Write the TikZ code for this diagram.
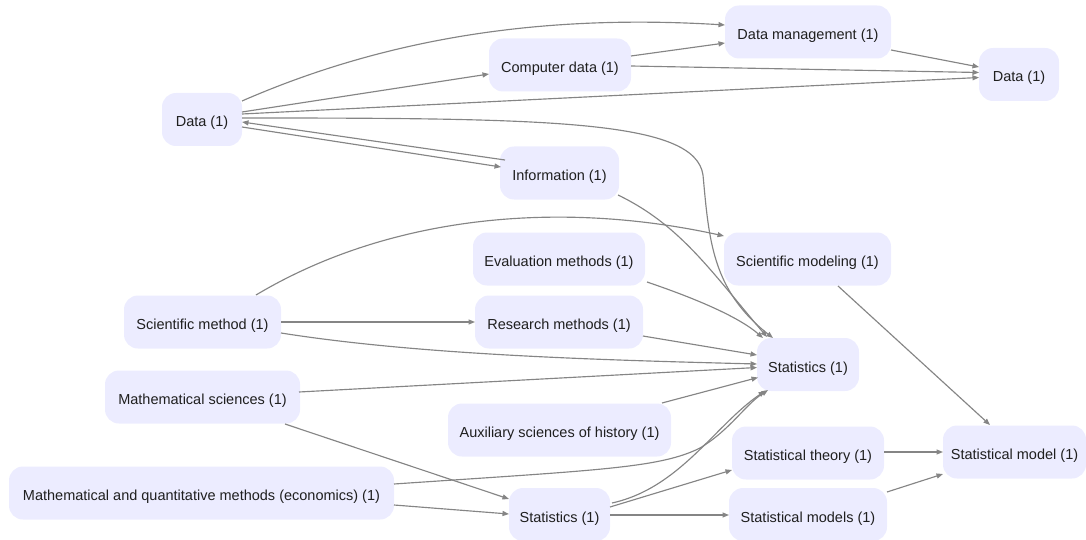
\documentclass[tikz,border=0pt]{standalone}
\usepackage{fontspec}
\setmainfont{Liberation Sans}
\usetikzlibrary{arrows.meta,calc}
\definecolor{boxfill}{HTML}{ECECFF}
\definecolor{edgegray}{HTML}{858585}
\begin{document}
\begin{tikzpicture}[x=1pt,y=-1pt,
  box/.style={fill=boxfill,rounded corners=14pt,minimum height=53pt,
    inner xsep=0pt,inner ysep=0pt,text height=15pt,text depth=0pt,
    font=\fontsize{14.5}{17}\selectfont,text=black!88},
  link/.style={draw=edgegray,line width=1.15pt,
    -{Triangle[length=6.5pt,width=5pt]}}]
\useasboundingbox (0,0) rectangle (1086,540);

% nodes
\node[box,minimum width=80pt]  (d1)    at (202,119.5) {Data (1)};
\node[box,minimum width=142pt] (cd)    at (560,65)    {Computer data (1)};
\node[box,minimum width=166pt] (dm)    at (808,32)    {Data management (1)};
\node[box,minimum width=80pt]  (d2)    at (1019,74.5) {Data (1)};
\node[box,minimum width=119pt] (info)  at (559.5,173) {Information (1)};
\node[box,minimum width=167pt] (smod)  at (807.5,259) {Scientific modeling (1)};
\node[box,minimum width=172pt] (em)    at (559,259)   {Evaluation methods (1)};
\node[box,minimum width=157pt] (sm)    at (202.5,322) {Scientific method (1)};
\node[box,minimum width=168pt] (rm)    at (559,322)   {Research methods (1)};
\node[box,minimum width=102pt] (stat)  at (808,364.5) {Statistics (1)};
\node[box,minimum width=195pt] (ms)    at (202.5,397) {Mathematical sciences (1)};
\node[box,minimum width=223pt] (aux)   at (559.5,430) {Auxiliary sciences of history (1)};
\node[box,minimum width=152pt] (st)    at (808,453)   {Statistical theory (1)};
\node[box,minimum width=143pt] (smdl)  at (1014.5,452) {Statistical model (1)};
\node[box,minimum width=385pt] (mq)    at (201.5,493) {Mathematical and quantitative methods (economics) (1)};
\node[box,minimum width=101pt] (s2)    at (559.5,514.5) {Statistics (1)};
\node[box,minimum width=158pt] (sms)   at (808,514.5) {Statistical models (1)};

% connectors
\draw[link] ($(d1)+(40,-18.5)$) .. controls (400,32) and (560,15) .. ($(dm)+(-83,-7)$);
\draw[link] ($(d1)+(40,-7.5)$) -- ($(cd)+(-71,9)$);
\draw[link] ($(cd)+(71,-9)$) -- ($(dm)+(-83,11)$);
\draw[link] ($(cd)+(71,1)$) -- ($(d2)+(-40,-2)$);
\draw[link] ($(d1)+(40,-5.5)$) -- ($(d2)+(-40,3)$);
\draw[link] ($(dm)+(83,18)$) -- ($(d2)+(-40,-7.5)$);
\draw[link] ($(d1)+(40,-1.5)$) .. controls (550,118) and (695,120) .. (703,175)
  .. controls (709,240) and (712,290) .. ($(stat)+(-35,-26.5)$);
\draw[link] ($(info)+(-54.5,-13)$) -- ($(d1)+(40,2.5)$);
\draw[link] ($(d1)+(40,7.5)$) -- ($(info)+(-58.5,-6)$);
\draw[link] ($(info)+(58.5,22)$) .. controls (680,225) and (710,270) .. ($(stat)+(-41,-27.5)$);
\draw[link] ($(sm)+(53.5,-27)$) .. controls (390,215) and (560,200) .. ($(smod)+(-83.5,-23)$);
\draw[link] ($(sm)+(78.5,0)$) -- ($(rm)+(-84,0)$);
\draw[link] ($(sm)+(78.5,11)$) .. controls (420,355) and (600,360) .. ($(stat)+(-51,-0.5)$);
\draw[link] ($(em)+(88,23)$) .. controls (700,300) and (740,318) .. ($(stat)+(-45,-26.5)$);
\draw[link] ($(rm)+(84,14)$) -- ($(stat)+(-51,-9.5)$);
\draw[link] ($(smod)+(30.5,27)$) -- ($(smdl)+(-24.5,-27)$);
\draw[link] ($(ms)+(96.5,-5)$) -- ($(stat)+(-51,3)$);
\draw[link] ($(ms)+(82.5,27)$) -- ($(s2)+(-50.5,-15.5)$);
\draw[link] ($(aux)+(102.5,-27)$) -- ($(stat)+(-50,13)$);
\draw[link] ($(mq)+(192.5,-9)$) .. controls (600,470) and (660,468) .. (700,448)
  .. controls (730,430) and (745,405) .. ($(stat)+(-40,25.5)$);
\draw[link] ($(mq)+(192.5,12)$) -- ($(s2)+(-50.5,-0.5)$);
\draw[link] ($(s2)+(52.5,-11.5)$) .. controls (680,488) and (715,425) .. ($(stat)+(-43,26.5)$);
\draw[link] ($(s2)+(50.5,-7.5)$) -- ($(st)+(-76,17)$);
\draw[link] ($(s2)+(50.5,0.5)$) -- ($(sms)+(-79,0.5)$);
\draw[link] ($(st)+(76,-1)$) -- ($(smdl)+(-71.5,0)$);
\draw[link] ($(sms)+(79,-22.5)$) -- ($(smdl)+(-71.5,22)$);
\end{tikzpicture}
\end{document}
